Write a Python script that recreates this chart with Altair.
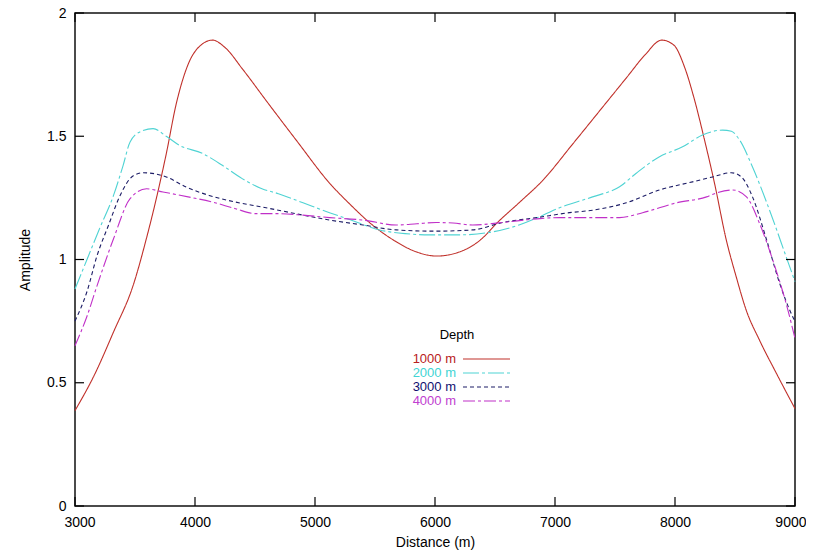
import altair as alt
import pandas as pd

# ---- data ----
depths = ["1000 m", "2000 m", "3000 m", "4000 m"]
colors = ["#c0302a", "#4fd3d3", "#1c1c66", "#c030c8"]
text_colors = ["#b82020", "#40d4d4", "#101070", "#c040d0"]
dashes = [[1, 0], [16, 3, 3, 3], [4, 3], [12, 3, 3, 3]]

x_1000 = [3000, 3160, 3321, 3486, 3596, 3679, 3761, 3843, 3950, 4050, 4146, 4250, 4400, 4600, 4850,
          5121, 5300, 5454, 5650, 5850, 6014, 6200, 6380, 6520, 6700, 6896, 7150, 7400, 7600, 7750,
          7890, 7990, 8080, 8163, 8246, 8329, 8427, 8510, 8593, 8704, 8843, 9000]
y_1000 = [0.387, 0.53, 0.706, 0.897, 1.087, 1.25, 1.43, 1.63, 1.80, 1.87, 1.89, 1.86, 1.77, 1.64, 1.48,
          1.31, 1.22, 1.15, 1.08, 1.03, 1.014, 1.03, 1.08, 1.15, 1.23, 1.32, 1.47, 1.62, 1.74, 1.83,
          1.89, 1.87, 1.78, 1.647, 1.485, 1.31, 1.08, 0.93, 0.795, 0.673, 0.54, 0.395]

x_2000 = [3000, 3100, 3200, 3321, 3400, 3459, 3550, 3651, 3760, 3871, 4063, 4228, 4393, 4558, 4695,
          4900, 5121, 5300, 5538, 5750, 5955, 6200, 6454, 6700, 6900, 7038, 7313, 7538, 7677, 7871,
          8063, 8229, 8396, 8470, 8538, 8646, 8788, 8927, 9000]
y_2000 = [0.88, 1.0, 1.12, 1.26, 1.38, 1.477, 1.52, 1.531, 1.50, 1.463, 1.43, 1.382, 1.328, 1.287, 1.267,
          1.23, 1.19, 1.16, 1.12, 1.105, 1.10, 1.10, 1.11, 1.14, 1.18, 1.21, 1.254, 1.295, 1.35, 1.417,
          1.457, 1.505, 1.525, 1.52, 1.485, 1.375, 1.2, 1.01, 0.91]

x_3000 = [3000, 3100, 3184, 3280, 3376, 3486, 3569, 3761, 3926, 4118, 4338, 4558, 4695, 4900, 5121,
          5400, 5677, 6000, 6313, 6562, 6850, 7121, 7313, 7594, 7871, 8146, 8313, 8468, 8551, 8646,
          8763, 8871, 8979, 9000]
y_3000 = [0.75, 0.87, 1.016, 1.14, 1.26, 1.34, 1.352, 1.335, 1.294, 1.26, 1.233, 1.213, 1.2, 1.18, 1.16,
          1.14, 1.12, 1.115, 1.12, 1.15, 1.17, 1.19, 1.2, 1.23, 1.282, 1.315, 1.335, 1.352, 1.336, 1.254,
          1.08, 0.905, 0.77, 0.75]

x_4000 = [3000, 3100, 3184, 3321, 3459, 3596, 3733, 3953, 4146, 4338, 4503, 4695, 4900, 5121, 5400,
          5677, 5850, 6010, 6150, 6313, 6562, 6850, 7038, 7300, 7538, 7730, 8013, 8263, 8346, 8479,
          8596, 8704, 8813, 8927, 9000]
y_4000 = [0.65, 0.77, 0.894, 1.084, 1.247, 1.287, 1.274, 1.253, 1.233, 1.206, 1.186, 1.186, 1.18, 1.17, 1.16,
          1.14, 1.145, 1.15, 1.148, 1.14, 1.15, 1.165, 1.17, 1.17, 1.17, 1.19, 1.23, 1.254, 1.27, 1.282,
          1.254, 1.147, 1.0, 0.82, 0.68]

x_ticks = [3000, 4000, 5000, 6000, 7000, 8000, 9000]
y_ticks = [0, 0.5, 1, 1.5, 2]

FONT = "Liberation Sans"
W, H = 720, 493

rows = []
for name, xs, ys in zip(depths, [x_1000, x_2000, x_3000, x_4000], [y_1000, y_2000, y_3000, y_4000]):
    for i, (a, b) in enumerate(zip(xs, ys)):
        rows.append({"depth": name, "x": a, "y": b, "order": i})
df = pd.DataFrame(rows)

xscale = alt.Scale(domain=[3000, 9000], nice=False, zero=False)
yscale = alt.Scale(domain=[0, 2], nice=False)

xaxis = alt.Axis(values=x_ticks, title="Distance (m)", tickSize=0, domain=False, grid=False,
                 labelExpr="datum.value + ''", labelFlush=True, labelFlushOffset=11,
                 labelFontSize=14, labelFont=FONT, labelPadding=9, labelColor="#000",
                 titleFont=FONT, titleFontSize=14, titleFontWeight="normal", titlePadding=6,
                 titleColor="#000")
yaxis = alt.Axis(values=y_ticks, title="Amplitude", tickSize=0, domain=False, grid=False,
                 labelExpr="datum.value + ''", labelFlush=False,
                 labelFontSize=14, labelFont=FONT, labelPadding=9, labelColor="#000",
                 titleFont=FONT, titleFontSize=14, titleFontWeight="normal", titlePadding=14,
                 titleColor="#000")

color_enc = alt.Color("depth:N", scale=alt.Scale(domain=depths, range=colors), legend=None)
dash_enc = alt.StrokeDash("depth:N", scale=alt.Scale(domain=depths, range=dashes), legend=None)

lines = alt.Chart(df).mark_line(strokeWidth=1.1, interpolate="monotone").encode(
    x=alt.X("x:Q", scale=xscale, axis=xaxis),
    y=alt.Y("y:Q", scale=yscale, axis=yaxis),
    color=color_enc,
    strokeDash=dash_enc,
    order="order:Q",
)

xt = pd.DataFrame({"t": x_ticks})
yt = pd.DataFrame({"t": y_ticks})
TL = 9
tick_x_bottom = alt.Chart(xt).mark_rule(color="#000", strokeWidth=1.2).encode(
    x=alt.X("t:Q", scale=xscale, axis=xaxis), y=alt.value(H), y2=alt.value(H - TL))
tick_x_top = alt.Chart(xt).mark_rule(color="#000", strokeWidth=1.2).encode(
    x=alt.X("t:Q", scale=xscale, axis=xaxis), y=alt.value(0), y2=alt.value(TL))
tick_y_left = alt.Chart(yt).mark_rule(color="#000", strokeWidth=1.2).encode(
    y=alt.Y("t:Q", scale=yscale, axis=yaxis), x=alt.value(0), x2=alt.value(TL))
tick_y_right = alt.Chart(yt).mark_rule(color="#000", strokeWidth=1.2).encode(
    y=alt.Y("t:Q", scale=yscale, axis=yaxis), x=alt.value(W), x2=alt.value(W - TL))

# legend (manual, gnuplot style)
leg = pd.DataFrame({"depth": depths, "tc": text_colors, "i": list(range(4))})
leg_title = alt.Chart(pd.DataFrame({"t": ["Depth"]})).mark_text(
    font=FONT, fontSize=13, align="center", baseline="middle", color="#000").encode(
    text="t:N", x=alt.value(382), y=alt.value(322))
leg_text = alt.Chart(leg).transform_calculate(py="346 + datum.i * 14").mark_text(
    font=FONT, fontSize=13, align="right", baseline="middle").encode(
    text="depth:N", x=alt.value(381),
    y=alt.Y("py:Q", scale=None, axis=None),
    color=alt.Color("tc:N", scale=None))
leg_lines = alt.Chart(leg).transform_calculate(py="346 + datum.i * 14").mark_rule(strokeWidth=1.1).encode(
    x=alt.value(388), x2=alt.value(435),
    y=alt.Y("py:Q", scale=None, axis=None),
    color=color_enc,
    strokeDash=dash_enc)

chart = alt.layer(
    lines, tick_x_bottom, tick_x_top, tick_y_left, tick_y_right, leg_title, leg_text, leg_lines
).properties(
    width=W, height=H,
    autosize=alt.AutoSizeParams(type="none"),
    padding={"left": 67, "top": 5, "right": 11, "bottom": 50},
    background="white",
).configure_view(stroke="#111", strokeWidth=1.5)

chart.save("out.html", embed_options={"renderer": "svg", "actions": False})
